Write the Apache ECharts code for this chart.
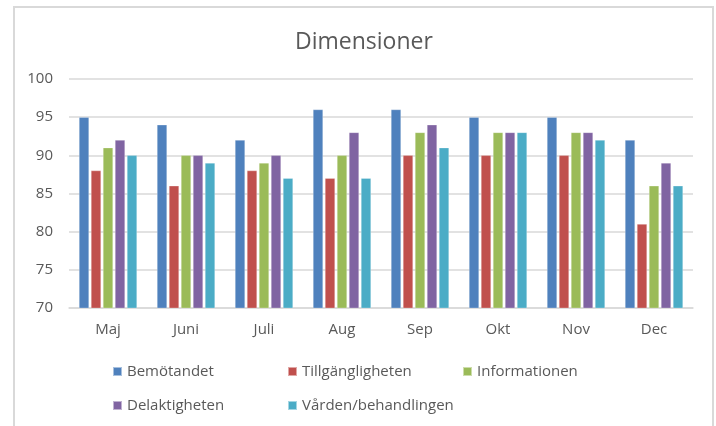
<!DOCTYPE html>
<html>
<head>
<meta charset="utf-8">
<script src="https://cdn.jsdelivr.net/npm/echarts@6/dist/echarts.min.js"></script>
<style>
  html, body { margin: 0; padding: 0; background: #fff; }
  #chart { width: 716px; height: 426px; }
</style>
</head>
<body>
<div id="chart"></div>
<script>
// månader
var months = ["Maj", "Juni", "Juli", "Aug", "Sep", "Okt", "Nov", "Dec"];
var bemotandet = [95, 94, 92, 96, 96, 95, 95, 92];
var tillganglighet = [88, 86, 88, 87, 90, 90, 90, 81];
var informationen = [91, 90, 89, 90, 93, 93, 93, 86];
var delaktigheten = [92, 90, 90, 93, 94, 93, 93, 89];
var varden = [90, 89, 87, 87, 91, 93, 92, 86];
var yTicks = [70, 75, 80, 85, 90, 95, 100];

var names = ["Bemötandet", "Tillgängligheten", "Informationen", "Delaktigheten", "Vården/behandlingen"];
var colors = ["#4F81BD", "#C0504D", "#9BBB59", "#8064A2", "#4BACC6"];
var values = [bemotandet, tillganglighet, informationen, delaktigheten, varden];

var font = "'Open Sans', 'Noto Sans', sans-serif";
var chart = echarts.init(document.getElementById("chart"));

// legend: 3 per rad, fasta kolumner
var legendLeft = [107, 282, 457, 107, 282];
var legendTop = [359, 359, 359, 393, 393];

var option = {
  animation: false,
  color: colors,
  title: {
    text: "Dimensioner",
    left: 290,
    top: 26,
    textStyle: { color: "#595959", fontSize: 23, fontWeight: "normal", fontFamily: font }
  },
  legend: names.map(function (n, i) {
    return {
      left: legendLeft[i],
      top: legendTop[i],
      data: [n],
      itemWidth: 9,
      itemHeight: 9,
      icon: "rect",
      textStyle: { color: "#595959", fontSize: 15, fontFamily: font }
    };
  }),
  grid: { left: 69, right: 23, top: 79, bottom: 118 },
  xAxis: {
    type: "category",
    data: months,
    axisLine: { lineStyle: { color: "#d9d9d9", width: 1.5 } },
    axisTick: { show: false },
    axisLabel: { color: "#595959", fontSize: 15, fontFamily: font, margin: 14 }
  },
  yAxis: {
    type: "value",
    min: yTicks[0],
    max: yTicks[yTicks.length - 1],
    interval: 5,
    axisLine: { show: false },
    axisTick: { show: false },
    splitLine: { lineStyle: { color: "#d9d9d9", width: 1.5 } },
    axisLabel: { color: "#595959", fontSize: 15, fontFamily: font, margin: 16 }
  },
  graphic: [{
    type: "rect",
    shape: { x: 14, y: 7, width: 699, height: 430 },
    style: { fill: "none", stroke: "#d9d9d9", lineWidth: 2 },
    silent: true
  }],
  series: names.map(function (n, i) {
    return {
      name: n,
      type: "bar",
      data: values[i],
      barWidth: 10,
      barGap: "20%",
      itemStyle: { color: colors[i], borderColor: "rgba(255,255,255,0.5)", borderWidth: 0.5 }
    };
  })
};

chart.setOption(option);
</script>
</body>
</html>
